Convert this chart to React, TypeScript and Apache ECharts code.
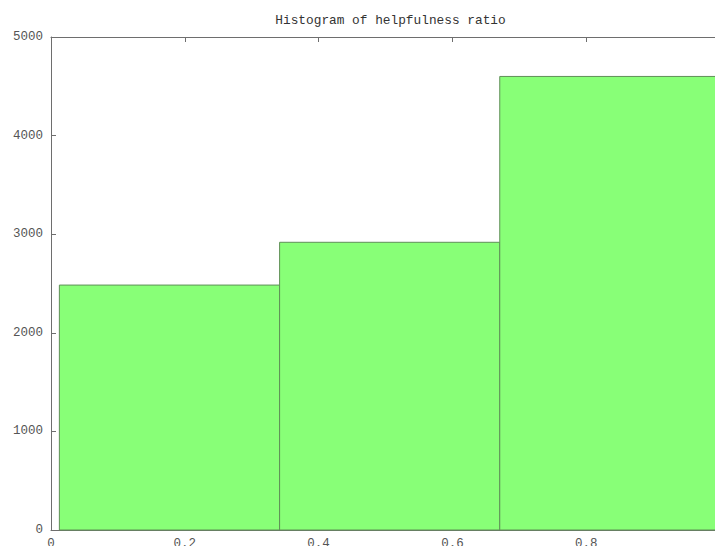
import React, { useEffect, useRef } from "react";
import * as echarts from "echarts";

const titleText = "Histogram of helpfulness ratio";
const binEdges = [0.0125, 0.3417, 0.6708, 1.0];
const counts = [2484, 2918, 4600];
const xTickStep = 0.2;
const yTickStep = 1000;
const yMax = 5000;

const FONT = "'Liberation Mono', 'DejaVu Sans Mono', monospace";
const AXIS_COLOR = "#6e6e6e";
const LABEL_COLOR = "#555555";

export default function App() {
  const ref = useRef<HTMLDivElement>(null);

  useEffect(() => {
    if (!ref.current) return;
    const chart = echarts.init(ref.current, undefined, { renderer: "svg" });
    const data = counts.map((c, i) => [binEdges[i], binEdges[i + 1], c]);
    const axisCommon = {
      type: "value" as const,
      min: 0,
      max: 1,
      interval: xTickStep,
      splitLine: { show: false },
      axisLine: { show: true, lineStyle: { color: AXIS_COLOR, width: 1 } },
      axisTick: { show: true, inside: true, length: 5, lineStyle: { color: AXIS_COLOR } },
    };
    chart.setOption({
      animation: false,
      backgroundColor: "#ffffff",
      title: {
        text: titleText,
        left: 385.5,
        top: 9,
        textAlign: "center",
        textStyle: { fontFamily: FONT, fontSize: 12.8, fontWeight: "normal", color: "#333333" },
      },
      grid: { left: 51, top: 37, right: 20, bottom: 16, containLabel: false, outerBoundsMode: "none" },
      xAxis: [
        {
          ...axisCommon,
          position: "bottom",
          axisLabel: {
            show: true,
            margin: 7,
            fontFamily: FONT,
            fontSize: 12.5,
            color: LABEL_COLOR,
            formatter: (v: number) => (v === 0 ? "0" : v === 1 ? "1" : v.toFixed(1)),
          },
        },
        {
          ...axisCommon,
          position: "top",
          axisLabel: { show: false },
        },
      ],
      yAxis: {
        type: "value",
        min: 0,
        max: yMax,
        interval: yTickStep,
        splitLine: { show: false },
        axisLine: { show: true, lineStyle: { color: AXIS_COLOR, width: 1 } },
        axisTick: { show: true, inside: true, length: 5, lineStyle: { color: AXIS_COLOR } },
        axisLabel: {
          margin: 8,
          fontFamily: FONT,
          fontSize: 12.5,
          color: LABEL_COLOR,
          formatter: (v: number) => String(v),
        },
      },
      series: [
        {
          type: "custom",
          xAxisIndex: 0,
          encode: { x: [0, 1], y: 2 },
          data,
          renderItem: (_params: any, api: any) => {
            const x0 = api.value(0);
            const x1 = api.value(1);
            const y = api.value(2);
            const p0 = api.coord([x0, y]);
            const p1 = api.coord([x1, 0]);
            return {
              type: "rect",
              shape: { x: p0[0], y: p0[1], width: p1[0] - p0[0], height: p1[1] - p0[1] },
              style: { fill: "#88ff77", stroke: "#5f8f57", lineWidth: 1 },
            };
          },
        },
      ],
    });
    return () => chart.dispose();
  }, []);

  return (
    <div style={{ position: "fixed", left: 0, top: 0, width: 715, height: 546, overflow: "hidden", background: "#fff" }}>
      <div ref={ref} style={{ width: 740, height: 546 }} />
    </div>
  );
}
